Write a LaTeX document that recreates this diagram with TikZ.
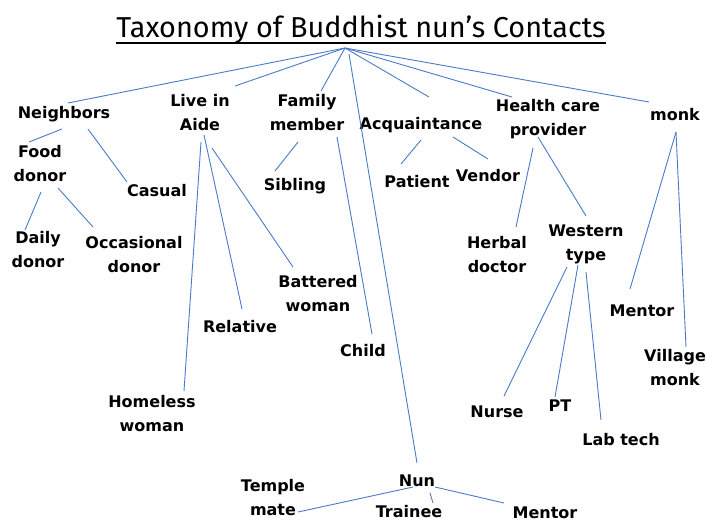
\documentclass[tikz,border=0pt]{standalone}
\usepackage{fontspec}
\setmainfont{Fira Sans}
\newfontfamily\labfont{DejaVu Sans}
\definecolor{linkblue}{HTML}{4A7BC8}
\begin{document}
\begin{tikzpicture}[x=1pt,y=-1pt,
  lab/.style={font=\labfont\bfseries\fontsize{16}{24}\selectfont, align=center, inner sep=0pt},
  conn/.style={draw=linkblue, line width=0.9pt}]
\useasboundingbox (0,0) rectangle (707,523);
\fill[white] (0,0) rectangle (707,523);
% title
\node[font=\fontsize{28.8}{30}\selectfont, inner sep=0pt] (title) at (361,29) {Taxonomy of Buddhist nun’s Contacts};
\draw[line width=2pt] ([yshift=-6pt]title.base west) -- ([yshift=-6pt]title.base east);
\coordinate (apex) at (345,48);
% level 1
\node[lab] (nb) at (64,114) {Neighbors};
\node[lab] (aide) at (200,113) {Live in\\Aide};
\node[lab] (fam) at (307,113) {Family\\member};
\node[lab] (acq) at (421,125) {Acquaintance};
\node[lab] (hcp) at (548,119) {Health care\\provider};
\node[lab] (monk) at (675,115) {monk};
% level 2
\node[lab] (food) at (40,164) {Food\\donor};
\node[lab] (casual) at (157,191) {Casual};
\node[lab] (daily) at (38,250) {Daily\\donor};
\node[lab] (occ) at (134,255) {Occasional\\donor};
\node[lab] (sib) at (295,186) {Sibling};
\node[lab] (batt) at (318,294) {Battered\\woman};
\node[lab] (rel) at (240,327) {Relative};
\node[lab] (child) at (363,351) {Child};
\node[lab] (home) at (152,414) {Homeless\\woman};
\node[lab] (pat) at (417,182) {Patient};
\node[lab] (vend) at (488,176) {Vendor};
\node[lab] (herb) at (497,255) {Herbal\\doctor};
\node[lab] (west) at (586,244) {Western\\type};
\node[lab] (ment) at (642,311) {Mentor};
\node[lab] (vill) at (675,368) {Village\\monk};
\node[lab] (nurse) at (497,412) {Nurse};
\node[lab] (pt) at (560,406) {PT};
\node[lab] (lab) at (621,440) {Lab tech};
\node[lab] (nun) at (417,481) {Nun};
\node[lab] (temple) at (273,498) {Temple\\mate};
\node[lab] (train) at (409,512) {Trainee};
\node[lab] (nment) at (545,513) {Mentor};
% connector end points
\coordinate (e-nb) at (68,103);
\coordinate (e-aide) at (235,86);
\coordinate (e-fam) at (321,91);
\coordinate (e-acq) at (429,97);
\coordinate (e-hcp) at (512,97);
\coordinate (e-monk) at (649,102);
\coordinate (s-nun) at (349,54);
\coordinate (e-nun) at (417,463);
\coordinate (nb-a) at (62,129);
\coordinate (nb-b) at (88,129);
\coordinate (food-top) at (29,142);
\coordinate (casual-top) at (127,182);
\coordinate (food-a) at (41,192);
\coordinate (food-b) at (58,188);
\coordinate (daily-top) at (25,230);
\coordinate (occ-top) at (93,227);
\coordinate (aide-a) at (201,142);
\coordinate (aide-b) at (204,135);
\coordinate (aide-c) at (212,148);
\coordinate (home-top) at (184,391);
\coordinate (rel-top) at (242,309);
\coordinate (batt-top) at (293,267);
\coordinate (fam-a) at (298,142);
\coordinate (fam-b) at (337,137);
\coordinate (sib-top) at (275,171);
\coordinate (child-top) at (372,334);
\coordinate (acq-a) at (421,140);
\coordinate (acq-b) at (453,137);
\coordinate (pat-top) at (401,164);
\coordinate (vend-top) at (488,159);
\coordinate (hcp-a) at (533,148);
\coordinate (hcp-b) at (538,137);
\coordinate (herb-top) at (516,227);
\coordinate (west-top) at (586,216);
\coordinate (monk-a) at (676,132);
\coordinate (ment-top) at (630,289);
\coordinate (vill-top) at (686,347);
\coordinate (west-a) at (567,267);
\coordinate (west-b) at (578,265);
\coordinate (west-c) at (586,272);
\coordinate (nurse-top) at (504,396);
\coordinate (pt-top) at (555,397);
\coordinate (lab-top) at (601,420);
\coordinate (nun-a) at (413,487);
\coordinate (nun-b) at (430,493);
\coordinate (nun-c) at (435,487);
\coordinate (temple-end) at (298,512);
\coordinate (train-top) at (433,503);
\coordinate (nment-top) at (504,503);
% connectors
\draw[conn] (apex) -- (e-nb);
\draw[conn] (apex) -- (e-aide);
\draw[conn] (apex) -- (e-fam);
\draw[conn] (apex) -- (e-acq);
\draw[conn] (apex) -- (e-hcp);
\draw[conn] (apex) -- (e-monk);
\draw[conn] (s-nun) -- (e-nun);
\draw[conn] (nb-a) -- (food-top);
\draw[conn] (nb-b) -- (casual-top);
\draw[conn] (food-a) -- (daily-top);
\draw[conn] (food-b) -- (occ-top);
\draw[conn] (aide-a) -- (home-top);
\draw[conn] (aide-b) -- (rel-top);
\draw[conn] (aide-c) -- (batt-top);
\draw[conn] (fam-a) -- (sib-top);
\draw[conn] (fam-b) -- (child-top);
\draw[conn] (acq-a) -- (pat-top);
\draw[conn] (acq-b) -- (vend-top);
\draw[conn] (hcp-a) -- (herb-top);
\draw[conn] (hcp-b) -- (west-top);
\draw[conn] (monk-a) -- (ment-top);
\draw[conn] (monk-a) -- (vill-top);
\draw[conn] (west-a) -- (nurse-top);
\draw[conn] (west-b) -- (pt-top);
\draw[conn] (west-c) -- (lab-top);
\draw[conn] (nun-a) -- (temple-end);
\draw[conn] (nun-b) -- (train-top);
\draw[conn] (nun-c) -- (nment-top);
\end{tikzpicture}
\end{document}
